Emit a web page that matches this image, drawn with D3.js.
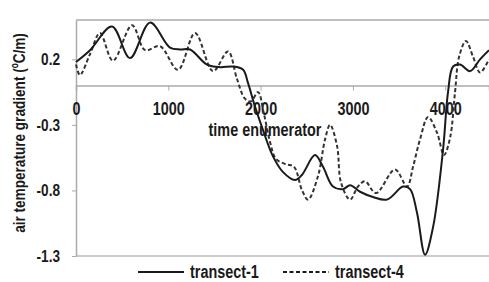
<!DOCTYPE html>
<html>
<head>
<meta charset="utf-8">
<style>
    body { margin: 0; background: white; }
    text { font-family: "Liberation Sans", Arial, sans-serif; font-weight: bold; fill: #1a1a1a; }
</style>
<script src="https://cdn.jsdelivr.net/npm/d3@7"></script>
</head>
<body>
<div id="chart"></div>
<script>
    // transect-1 (solid)
    var t1X = [0, 152, 390, 585, 802, 1018, 1127, 1235, 1419, 1560, 1701, 1810, 1863, 1939, 2026, 2134, 2243, 2373, 2449,
               2589, 2676, 2784, 2893, 2969, 3077, 3218, 3369, 3543, 3619, 3694, 3781, 3868, 3976, 4030, 4085, 4160, 4268, 4377, 4474];
    var t1Y = [0.18, 0.27, 0.45, 0.21, 0.48, 0.29, 0.275, 0.275, 0.16, 0.14, 0.145, 0.12, 0.02, -0.16, -0.34, -0.54, -0.66, -0.72, -0.68,
               -0.53, -0.62, -0.77, -0.79, -0.76, -0.81, -0.85, -0.87, -0.77, -0.79, -0.97, -1.29, -1.08, -0.49, -0.05, 0.145, 0.16, 0.11, 0.2, 0.27];

    // transect-4 (dashed)
    var t4X = [0, 43, 152, 260, 400, 607, 748, 910, 1105, 1290, 1484, 1647, 1744, 1830, 1896, 1972, 2037, 2102, 2167, 2275, 2362,
               2449, 2514, 2622, 2698, 2752, 2828, 2871, 2969, 3055, 3131, 3250, 3456, 3586, 3651, 3727, 3814, 3911, 3987, 4052,
               4106, 4150, 4225, 4301, 4377, 4474];
    var t4Y = [0.16, 0.08, 0.24, 0.40, 0.19, 0.46, 0.27, 0.30, 0.12, 0.40, 0.11, 0.26, 0.05, -0.10, -0.12, -0.05, -0.22, -0.43, -0.56, -0.60, -0.62,
               -0.80, -0.87, -0.69, -0.41, -0.30, -0.46, -0.74, -0.87, -0.77, -0.73, -0.82, -0.64, -0.77, -0.62, -0.41, -0.24, -0.36, -0.53, -0.40,
               -0.05, 0.22, 0.34, 0.22, 0.10, 0.2];

    var xTicks = [0, 1000, 2000, 3000, 4000];
    var yTicks = [0.2, -0.3, -0.8, -1.3];
    var seriesNames = ['transect-1', 'transect-4'];

    var width = 489, height = 282;
    var m = { left: 76, right: 489, top: 20, bottom: 256 };

    var svg = d3.select('#chart').append('svg')
        .attr('width', width)
        .attr('height', height);

    var x = d3.scaleLinear().domain([0, 4474]).range([m.left, m.right]);
    var y = d3.scaleLinear().domain([-1.3, 0.5]).range([m.bottom, m.top]);

    // plot area border (top and bottom)
    svg.append('line')
        .attr('x1', m.left).attr('x2', m.right)
        .attr('y1', m.top).attr('y2', m.top)
        .attr('stroke', '#aaa').attr('stroke-width', 1.5);
    svg.append('line')
        .attr('x1', m.left).attr('x2', m.right)
        .attr('y1', m.bottom).attr('y2', m.bottom)
        .attr('stroke', '#bbb').attr('stroke-width', 1.5);

    // y axis
    var yAxis = svg.append('g')
        .attr('transform', 'translate(' + m.left + ',0)')
        .call(d3.axisLeft(y).tickValues(yTicks).tickSize(4).tickSizeOuter(0).tickPadding(12)
            .tickFormat(function(d) { return String(d); }));
    yAxis.select('.domain').attr('stroke', '#aaa').attr('stroke-width', 1.5);
    yAxis.selectAll('.tick line').attr('stroke', '#aaa');
    yAxis.selectAll('text').attr('font-family', null).attr('font-size', null)
        .style('font-size', '17px').attr('fill', '#1a1a1a');

    // x axis crossing at 0
    var xAxis = svg.append('g')
        .attr('transform', 'translate(0,' + y(0) + ')')
        .call(d3.axisBottom(x).tickValues(xTicks).tickSizeOuter(0).tickSize(5).tickPadding(12)
            .tickFormat(d3.format('d')));
    xAxis.select('.domain').attr('stroke', '#aaa').attr('stroke-width', 1.5);
    xAxis.selectAll('.tick line').attr('stroke', '#aaa');
    xAxis.selectAll('text').attr('font-family', null).attr('font-size', null)
        .style('font-size', '18px').attr('fill', '#1a1a1a');

    var line = d3.line()
        .x(function(d) { return x(d[0]); })
        .y(function(d) { return y(d[1]); })
        .curve(d3.curveCatmullRom.alpha(0.5));

    var t1 = t1X.map(function(v, i) { return [v, t1Y[i]]; });
    var t4 = t4X.map(function(v, i) { return [v, t4Y[i]]; });

    svg.append('path')
        .attr('d', line(t4))
        .attr('fill', 'none')
        .attr('stroke', '#333')
        .attr('stroke-width', 2)
        .attr('stroke-dasharray', '4,2.5');

    svg.append('path')
        .attr('d', line(t1))
        .attr('fill', 'none')
        .attr('stroke', '#1a1a1a')
        .attr('stroke-width', 2);

    // axis titles
    svg.append('text')
        .attr('x', 265).attr('y', 136)
        .attr('text-anchor', 'middle')
        .style('font-size', '18px')
        .text('time enumerator');

    // legend
    var legend = svg.append('g');
    var lx = [138, 283];
    seriesNames.forEach(function(name, i) {
        legend.append('line')
            .attr('x1', lx[i]).attr('x2', lx[i] + 46)
            .attr('y1', 272).attr('y2', 272)
            .attr('stroke', '#1a1a1a')
            .attr('stroke-width', 2)
            .attr('stroke-dasharray', i === 1 ? '4,2.5' : null);
        legend.append('text')
            .attr('x', lx[i] + 52).attr('y', 278)
            .style('font-size', '18px')
            .text(name);
    });

    // the reference uses a narrow bold face; squeeze every text horizontally
    svg.selectAll('text').each(function() {
        var len = this.getComputedTextLength();
        d3.select(this).attr('textLength', len * 0.8).attr('lengthAdjust', 'spacingAndGlyphs');
    });

    // vertical title: squeezed with a transform instead
    svg.append('text')
        .attr('transform', 'translate(25,133) rotate(-90) scale(0.8,1)')
        .attr('text-anchor', 'middle')
        .style('font-size', '17px')
        .text('air temperature gradient (ºC/m)');
</script>
</body>
</html>
